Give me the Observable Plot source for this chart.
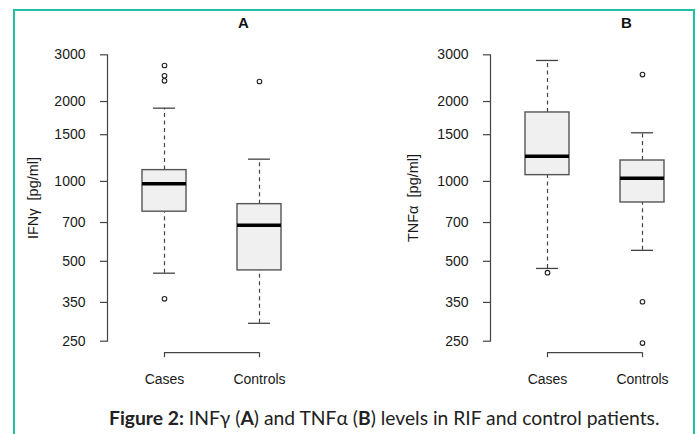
<!DOCTYPE html>
<html><head><meta charset="utf-8">
<script src="https://cdn.jsdelivr.net/npm/d3@7"></script>
<script src="https://cdn.jsdelivr.net/npm/@observablehq/plot@0.6"></script>
<style>
html,body{margin:0;padding:0;background:#fff;}
#wrap{position:relative;width:696px;height:434px;overflow:hidden;background:#fff;}
.panel{position:absolute;top:0;width:330px;height:395px;}
.panel svg{max-width:none !important;}
#border{position:absolute;left:13px;top:9px;width:682px;height:460px;border:2px solid #22bfa3;box-sizing:border-box;pointer-events:none;}
#caption{position:absolute;left:109px;top:406px;font-family:Lato,"Open Sans",sans-serif;font-size:19.3px;color:#222;white-space:nowrap;}
</style></head>
<body>
<div id="wrap">
  <div id="pA" class="panel" style="left:0px"></div>
  <div id="pB" class="panel" style="left:383px"></div>
  <div id="caption"><b>Figure 2:</b> INFγ (<b>A</b>) and TNFα (<b>B</b>) levels in RIF and control patients.</div>
  <div id="border"></div>
</div>
<script>
// categories
const groups = ["Cases", "Controls"];
const yTicks = [250, 350, 500, 700, 1000, 1500, 2000, 3000];

// Panel A: IFN-gamma [pg/ml]
const ifnLow    = [451, 292];
const ifnQ1     = [769, 462];
const ifnMedian = [980, 684];
const ifnQ3     = [1103, 821];
const ifnHigh   = [1888, 1213];
const ifnOutCases    = [2734, 2500, 2394, 361];
const ifnOutControls = [2380];

// Panel B: TNF-alpha [pg/ml]
const tnfLow    = [470, 550];
const tnfQ1     = [1056, 833];
const tnfMedian = [1245, 1029];
const tnfQ3     = [1819, 1199];
const tnfHigh   = [2856, 1525];
const tnfOutCases    = [453];
const tnfOutControls = [2528, 352, 246];

function stats(low, q1, med, q3, high) {
  return groups.map((g, i) => ({group: g, low: low[i], q1: q1[i], median: med[i], q3: q3[i], high: high[i]}));
}
function outliers(a, b) {
  return [...a.map(v => ({group: groups[0], value: v})), ...b.map(v => ({group: groups[1], value: v}))];
}

const FONT = "Liberation Sans, Arial, sans-serif";
const INK = "#1a1a1a";
const LINE = "#444";

function panel({title, label, st, out, labelDx}) {
  return Plot.plot({
    width: 330,
    height: 395,
    marginLeft: 107,
    marginRight: 14,
    marginTop: 54.3,
    marginBottom: 54.3,
    style: {fontFamily: FONT, color: INK, background: "transparent", overflow: "visible", maxWidth: "none"},
    x: {type: "band", domain: groups, paddingInner: 0.537, paddingOuter: 0.368, label: null},
    y: {type: "log", domain: [250, 3000], label: null},
    marks: [
      Plot.frame({anchor: "left", stroke: LINE, strokeWidth: 1.2}),
      Plot.axisY({ticks: yTicks, tickFormat: d => String(d), tickSize: 7, tickPadding: 15, fontSize: 14, stroke: LINE, strokeWidth: 1.2, fill: INK, label: null}),
      Plot.axisX({tickSize: 5, tickPadding: 16, dy: 11.5, fontSize: 14, stroke: LINE, strokeWidth: 1.2, fill: INK, label: null}),
      Plot.ruleY([yTicks[0]], {x1: () => groups[0], x2: () => groups[1], dy: 11.5, insetLeft: 22, insetRight: 22, stroke: LINE, strokeWidth: 1.2}),
      Plot.ruleX(st, {x: "group", y1: "low", y2: "q1", stroke: LINE, strokeWidth: 1.2, strokeDasharray: "4,3.5"}),
      Plot.ruleX(st, {x: "group", y1: "q3", y2: "high", stroke: LINE, strokeWidth: 1.2, strokeDasharray: "4,3.5"}),
      Plot.tickY(st, {x: "group", y: "low", insetLeft: 11, insetRight: 11, stroke: LINE, strokeWidth: 1.3}),
      Plot.tickY(st, {x: "group", y: "high", insetLeft: 11, insetRight: 11, stroke: LINE, strokeWidth: 1.3}),
      Plot.barY(st, {x: "group", y1: "q1", y2: "q3", fill: "#f0f0f0", stroke: "#555", strokeWidth: 1.4}),
      Plot.tickY(st, {x: "group", y: "median", stroke: "#000", strokeWidth: 3.5}),
      Plot.dot(out, {x: "group", y: "value", r: 2.3, stroke: "#222", strokeWidth: 1.1, fill: "none"}),
      Plot.text([title], {frameAnchor: "top-left", dx: 136, dy: -31.6, fontWeight: "bold", fontSize: 15, textAnchor: "middle", lineAnchor: "middle", fill: "#111"}),
      Plot.text([label], {frameAnchor: "left", rotate: -90, dx: labelDx, fontSize: 14.5, textAnchor: "middle", lineAnchor: "middle", fill: INK})
    ]
  });
}

document.getElementById("pA").append(panel({
  title: "A", label: "IFNγ\u00a0\u00a0[pg/ml]",
  st: stats(ifnLow, ifnQ1, ifnMedian, ifnQ3, ifnHigh),
  out: outliers(ifnOutCases, ifnOutControls), labelDx: -74
}));
document.getElementById("pB").append(panel({
  title: "B", label: "TNFα\u00a0\u00a0[pg/ml]",
  st: stats(tnfLow, tnfQ1, tnfMedian, tnfQ3, tnfHigh),
  out: outliers(tnfOutCases, tnfOutControls), labelDx: -77
}));
</script>
</body></html>
